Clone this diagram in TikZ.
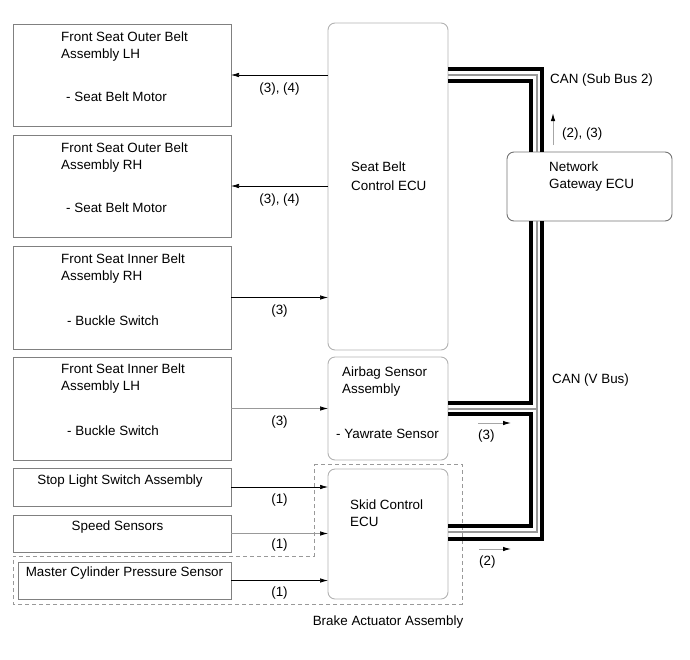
\documentclass[tikz,border=0pt]{standalone}
\usepackage{fontspec}
\setmainfont{Liberation Sans}
\usetikzlibrary{arrows.meta,positioning}
\tikzset{
  partbox/.style={draw=black!50, line width=0.9pt, minimum width=218pt, inner sep=0pt, outer sep=0pt},
  ecubox/.style={draw=black!30, line width=0.9pt, rounded corners=7pt, minimum width=120pt, inner sep=0pt, outer sep=0pt},
  boxtext/.style={align=left, inner sep=0pt, anchor=north west, font=\fontsize{13.4pt}{16.5pt}\selectfont},
  sigtag/.style={inner sep=0pt, font=\fontsize{13.4pt}{16.5pt}\selectfont},
  sigarrow/.style={-{Latex[length=8pt, width=4.5pt, color=black]}, line width=0.7pt, draw=black},
  busarrow/.style={-{Latex[length=8pt, width=4.5pt, color=black]}, line width=1pt, draw=black!35},
  canwire/.style={draw=black, line width=4pt},
  canmid/.style={draw=black!40, line width=1.3pt},
  brakezone/.style={draw=black!40, line width=0.8pt, dash pattern=on 4pt off 3pt},
}
\begin{document}
\begin{tikzpicture}[x=1pt, y=-1pt, node distance=8pt]
  \useasboundingbox (0,0) rectangle (690,659);

  % belt assemblies and sensors
  \node[partbox, minimum height=102pt, anchor=north west] (olh) at (13,24) {};
  \node[partbox, minimum height=102pt, below=9pt of olh] (orh) {};
  \node[partbox, minimum height=103pt, below=9pt of orh] (irh) {};
  \node[partbox, minimum height=103pt, below=of irh] (ilh) {};
  \node[partbox, minimum height=38pt, below=of ilh] (stop) {};
  \node[partbox, minimum height=37pt, below=9pt of stop] (speed) {};
  \node[partbox, minimum width=213pt, minimum height=37pt, below=10pt of speed.south east, anchor=north east] (master) {};

  \node[boxtext, below right=8pt and 48pt of olh.north west] (olhtext) {Front Seat Outer Belt\\Assembly LH\\[26.5pt]\hspace*{5pt}- Seat Belt Motor};
  \node[boxtext, below right=8pt and 48pt of orh.north west] (orhtext) {Front Seat Outer Belt\\Assembly RH\\[26.5pt]\hspace*{5pt}- Seat Belt Motor};
  \node[boxtext, below right=8pt and 48pt of irh.north west] (irhtext) {Front Seat Inner Belt\\Assembly RH\\[28.5pt]\hspace*{6pt}- Buckle Switch};
  \node[boxtext, below right=7pt and 48pt of ilh.north west] (ilhtext) {Front Seat Inner Belt\\Assembly LH\\[28.5pt]\hspace*{6pt}- Buckle Switch};
  \node[sigtag, below=7pt of stop.north, xshift=-2pt] (stoptext) {Stop Light Switch Assembly};
  \node[sigtag, below=6pt of speed.north, xshift=-4.5pt] (speedtext) {Speed Sensors};
  \node[sigtag, below=5pt of master.north] (mastertext) {Master Cylinder Pressure Sensor};

  % ECUs
  \node[ecubox, minimum height=327pt, anchor=north west] (sbc) at (328,23) {};
  \node[ecubox, minimum height=103pt, below=7pt of sbc] (airbag) {};
  \node[ecubox, minimum height=130pt, below=9pt of airbag] (skid) {};
  \node[ecubox, draw=black!55, minimum width=165pt, minimum height=69pt, anchor=north west] (gw) at (507,152) {};

  \node[boxtext, below right=139pt and 23pt of sbc.north west] (sbctext) {Seat Belt\\[2pt]Control ECU};
  \node[boxtext, below right=10pt and 8pt of airbag.north west] (airbagtext) {\hspace*{6pt}Airbag Sensor\\\hspace*{6pt}Assembly\\[28.5pt]- Yawrate Sensor};
  \node[boxtext, below right=31pt and 22pt of skid.north west] (skidtext) {Skid Control\\ECU};
  \node[boxtext, below right=10pt and 42pt of gw.north west] (gwtext) {Network\\Gateway ECU};

  % brake actuator outline
  \draw[brakezone] ([shift={(-14pt,5pt)}]skid.north west) -- ([shift={(14pt,5pt)}]skid.north east)
    -- ([shift={(14pt,-5pt)}]skid.south east) -| ([yshift=-4pt]speed.south west)
    -| ([shift={(-14pt,5pt)}]skid.north west);
  \node[sigtag, below=17pt of skid.south] (braketext) {Brake Actuator Assembly};

  % signal lines
  \draw[sigarrow] (sbc.west |- olh.east) -- (olh.east) node[sigtag, midway, below=7pt] (olhsig) {(3), (4)};
  \draw[sigarrow] (sbc.west |- orh.east) -- (orh.east) node[sigtag, midway, below=7pt] (orhsig) {(3), (4)};
  \draw[sigarrow] (irh.east) -- (irh.east -| sbc.west) node[sigtag, midway, below=7pt] (irhsig) {(3)};
  \draw[sigarrow, draw=black!40] (ilh.east) -- (ilh.east -| airbag.west) node[sigtag, midway, below=7pt] (ilhsig) {(3)};
  \draw[sigarrow] (stop.east) -- (stop.east -| skid.west) node[sigtag, midway, below=6.5pt] (stopsig) {(1)};
  \draw[sigarrow, draw=black!40] (speed.east) -- (speed.east -| skid.west) node[sigtag, midway, below=5pt] (speedsig) {(1)};
  \draw[sigarrow] (master.east) -- (master.east -| skid.west) node[sigtag, midway, below=6pt] (mastersig) {(1)};

  % CAN sub bus 2
  \draw[canwire] ([yshift=-46pt]sbc.north east) -| ([xshift=35pt]gw.north west);
  \draw[canwire] ([yshift=-58pt]sbc.north east) -| ([xshift=24pt]gw.north west);
  \draw[canmid] ([yshift=-52pt]sbc.north east) -| ([xshift=30pt]gw.north west);

  % CAN V bus
  \draw[canwire] ([xshift=35pt]gw.south west) |- ([yshift=-70pt]skid.north east);
  \draw[canwire] ([xshift=24pt]gw.south west) |- ([yshift=-46pt]airbag.north east);
  \draw[canwire] ([yshift=-57pt]airbag.north east) -- ++(83,0) |- ([yshift=-57pt]skid.north east);
  \draw[canmid] ([xshift=30pt]gw.south west) |- ([yshift=-63pt]skid.north east);
  \draw[canmid] ([yshift=-52pt]airbag.north east) -- ++(89,0);

  \node[sigtag, anchor=west] (subbus) at (550,80) {CAN (Sub Bus 2)};
  \node[sigtag, anchor=west] (vbus) at (552,380) {CAN (V Bus)};

  % messages put on the bus
  \coordinate (gwout) at (553,145);
  \coordinate (gwup) at (553,113);
  \draw[busarrow] (gwout) -- (gwup);
  \node[sigtag, anchor=west] (gwsig) at (562,134) {(2), (3)};
  \coordinate (airbagout) at (478,423);
  \coordinate (airbagend) at (511,423);
  \draw[busarrow] (airbagout) -- (airbagend);
  \node[sigtag, anchor=north west] (airbagsig) at (478,430) {(3)};
  \coordinate (skidout) at (479,549);
  \coordinate (skidend) at (511,549);
  \draw[busarrow] (skidout) -- (skidend);
  \node[sigtag, anchor=north west] (skidsig) at (479,556) {(2)};
\end{tikzpicture}
\end{document}
